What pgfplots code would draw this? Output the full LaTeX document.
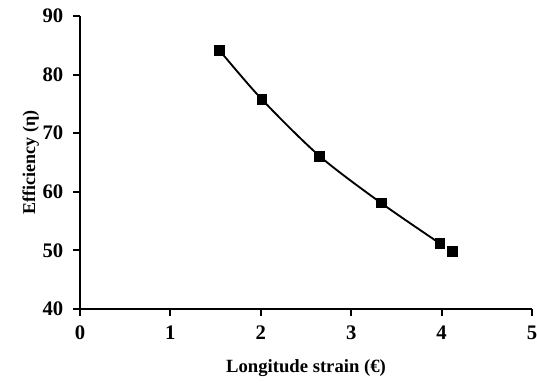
\documentclass[border=0pt]{standalone}
\usepackage{pgfplots}
\pgfplotsset{compat=1.18}
\usepackage{fontspec}
\setmainfont{Liberation Serif}
\begin{document}
\begin{tikzpicture}
\useasboundingbox (-60pt,-55.5pt) rectangle (342.75pt,231.75pt);
\begin{axis}[
  at={(0,0)}, anchor=south west,
  scale only axis, width=339pt, height=219.75pt,
  xmin=0, xmax=5, ymin=40, ymax=90,
  axis lines=left, axis line style={-, line width=1.4pt},
  xtick={0,1,2,3,4,5}, ytick={40,50,60,70,80,90},
  tick align=outside, major tick length=5pt,
  tick style={line width=1.4pt, black},
  /pgf/number format/assume math mode=true,
  tick label style={font=\bfseries\fontsize{15.5}{17}\selectfont},
  xticklabel style={yshift=-4pt},
  yticklabel style={xshift=-4pt},
  xlabel={Longitude strain (€)},
  ylabel={Efficiency (η)},
  xlabel style={font=\bfseries\fontsize{14}{16}\selectfont, at={(axis description cs:0.5,0)}, anchor=center, yshift=-44pt},
  ylabel style={font=\bfseries\fontsize{13.5}{16}\selectfont, at={(axis description cs:0,0.5)}, anchor=center, yshift=37pt},
  clip=false,
]
\addplot[black, line width=1.4pt, smooth, no marks] coordinates {
  (1.54,84.2) (2.01,75.8) (2.65,66.1) (3.33,58.1) (3.98,51.2)
};
\addplot[only marks, mark=square*, mark size=3.6pt, black] coordinates {
  (1.54,84.2) (2.01,75.8) (2.65,66.1) (3.33,58.1) (3.98,51.2) (4.12,49.9)
};
\end{axis}
\end{tikzpicture}
\end{document}
